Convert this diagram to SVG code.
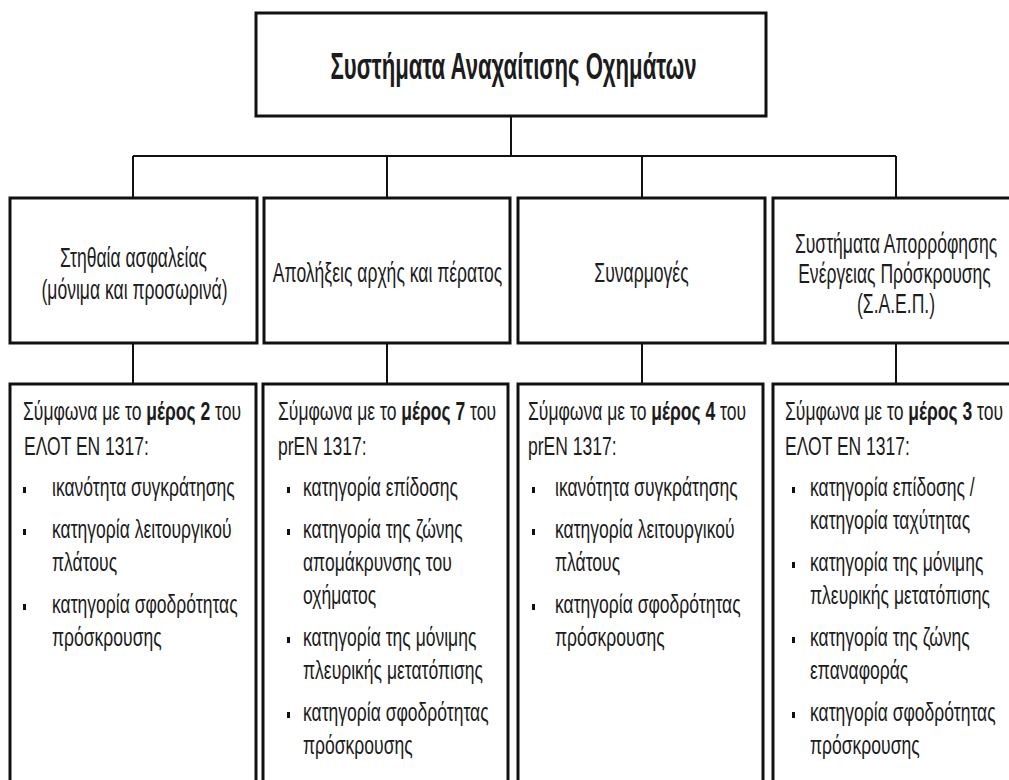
<svg xmlns="http://www.w3.org/2000/svg" width="1009" height="780" viewBox="0 0 1009 780">
<style>
.box{fill:#fff;stroke:#111;stroke-width:3}
.con{stroke:#111;stroke-width:2;fill:none}
text{font-family:"Liberation Sans",Arial,sans-serif;fill:#1c1c1c}
.title{font-size:36px;font-weight:bold;text-anchor:middle}
.hd{font-size:28px;text-anchor:middle}
.bd{font-size:26px}
.b{font-weight:bold}
.bul{fill:#111}
</style>
<rect width="1009" height="780" fill="#fff"/>
<g id="connectors">
<path class="con" d="M511 116V156M133 156H896M133 156V198M387 156V198M642 156V198M896 156V198"/>
<path class="con" d="M133 343V384M387 343V384M642 343V384M896 343V384"/>
</g>
<g id="root">
<rect class="box" x="256" y="13" width="510" height="103"/>
<text class="title" transform="translate(513.5 79) scale(0.615 1)">Συστήματα Αναχαίτισης Οχημάτων</text>
</g>
<g id="h1">
<rect class="box" x="10" y="198" width="247" height="145"/>
<text class="hd" transform="translate(133.5 267) scale(0.627 1)">Στηθαία ασφαλείας</text>
<text class="hd" transform="translate(134.5 299) scale(0.627 1)">(μόνιμα και προσωρινά)</text>
</g>
<g id="h2">
<rect class="box" x="264" y="198" width="246" height="145"/>
<text class="hd" transform="translate(387.5 282) scale(0.627 1)">Απολήξεις αρχής και πέρατος</text>
</g>
<g id="h3">
<rect class="box" x="518" y="198" width="247" height="145"/>
<text class="hd" transform="translate(641.5 282) scale(0.627 1)">Συναρμογές</text>
</g>
<g id="h4">
<rect class="box" x="773" y="198" width="245" height="145"/>
<text class="hd" transform="translate(896 253) scale(0.627 1)">Συστήματα Απορρόφησης</text>
<text class="hd" transform="translate(894.5 283) scale(0.627 1)">Ενέργειας Πρόσκρουσης</text>
<text class="hd" transform="translate(896 313) scale(0.627 1)">(Σ.Α.Ε.Π.)</text>
</g>
<g id="b1">
<rect class="box" x="10" y="384" width="246" height="420"/>
<text class="bd" transform="translate(23 420) scale(0.674 1)">Σύμφωνα με το <tspan class="b">μέρος 2</tspan> του</text>
<text class="bd" transform="translate(24 455) scale(0.674 1)">ΕΛΟΤ ΕΝ 1317:</text>
<rect class="bul" x="23" y="487" width="3" height="6"/>
<text class="bd" transform="translate(52 496) scale(0.674 1)">ικανότητα συγκράτησης</text>
<rect class="bul" x="23" y="529" width="3" height="6"/>
<text class="bd" transform="translate(52 538) scale(0.674 1)">κατηγορία λειτουργικού</text>
<text class="bd" transform="translate(52 571) scale(0.674 1)">πλάτους</text>
<rect class="bul" x="23" y="604" width="3" height="6"/>
<text class="bd" transform="translate(52 613) scale(0.674 1)">κατηγορία σφοδρότητας</text>
<text class="bd" transform="translate(52 646) scale(0.674 1)">πρόσκρουσης</text>
</g>
<g id="b2">
<rect class="box" x="263" y="384" width="245" height="420"/>
<text class="bd" transform="translate(278 420) scale(0.674 1)">Σύμφωνα με το <tspan class="b">μέρος 7</tspan> του</text>
<text class="bd" transform="translate(278 455) scale(0.674 1)">prEN 1317:</text>
<rect class="bul" x="287" y="487" width="3" height="6"/>
<text class="bd" transform="translate(303 496) scale(0.674 1)">κατηγορία επίδοσης</text>
<rect class="bul" x="287" y="529" width="3" height="6"/>
<text class="bd" transform="translate(303 538) scale(0.674 1)">κατηγορία της ζώνης</text>
<text class="bd" transform="translate(303 571) scale(0.674 1)">απομάκρυνσης του</text>
<text class="bd" transform="translate(303 604) scale(0.674 1)">οχήματος</text>
<rect class="bul" x="287" y="637" width="3" height="6"/>
<text class="bd" transform="translate(303 646) scale(0.674 1)">κατηγορία της μόνιμης</text>
<text class="bd" transform="translate(303 679) scale(0.674 1)">πλευρικής μετατόπισης</text>
<rect class="bul" x="287" y="712" width="3" height="6"/>
<text class="bd" transform="translate(303 721) scale(0.674 1)">κατηγορία σφοδρότητας</text>
<text class="bd" transform="translate(303 754) scale(0.674 1)">πρόσκρουσης</text>
</g>
<g id="b3">
<rect class="box" x="518" y="384" width="245" height="420"/>
<text class="bd" transform="translate(528 420) scale(0.674 1)">Σύμφωνα με το <tspan class="b">μέρος 4</tspan> του</text>
<text class="bd" transform="translate(528 455) scale(0.674 1)">prEN 1317:</text>
<rect class="bul" x="532" y="487" width="3" height="6"/>
<text class="bd" transform="translate(555 496) scale(0.674 1)">ικανότητα συγκράτησης</text>
<rect class="bul" x="532" y="529" width="3" height="6"/>
<text class="bd" transform="translate(555 538) scale(0.674 1)">κατηγορία λειτουργικού</text>
<text class="bd" transform="translate(555 571) scale(0.674 1)">πλάτους</text>
<rect class="bul" x="532" y="604" width="3" height="6"/>
<text class="bd" transform="translate(555 613) scale(0.674 1)">κατηγορία σφοδρότητας</text>
<text class="bd" transform="translate(555 646) scale(0.674 1)">πρόσκρουσης</text>
</g>
<g id="b4">
<rect class="box" x="773" y="384" width="245" height="420"/>
<text class="bd" transform="translate(785 420) scale(0.674 1)">Σύμφωνα με το <tspan class="b">μέρος 3</tspan> του</text>
<text class="bd" transform="translate(785 455) scale(0.674 1)">ΕΛΟΤ ΕΝ 1317:</text>
<rect class="bul" x="792" y="487" width="3" height="6"/>
<text class="bd" transform="translate(810 496) scale(0.674 1)">κατηγορία επίδοσης /</text>
<text class="bd" transform="translate(810 529) scale(0.674 1)">κατηγορία ταχύτητας</text>
<rect class="bul" x="792" y="562" width="3" height="6"/>
<text class="bd" transform="translate(810 571) scale(0.674 1)">κατηγορία της μόνιμης</text>
<text class="bd" transform="translate(810 604) scale(0.674 1)">πλευρικής μετατόπισης</text>
<rect class="bul" x="792" y="637" width="3" height="6"/>
<text class="bd" transform="translate(810 646) scale(0.674 1)">κατηγορία της ζώνης</text>
<text class="bd" transform="translate(810 679) scale(0.674 1)">επαναφοράς</text>
<rect class="bul" x="792" y="712" width="3" height="6"/>
<text class="bd" transform="translate(810 721) scale(0.674 1)">κατηγορία σφοδρότητας</text>
<text class="bd" transform="translate(810 754) scale(0.674 1)">πρόσκρουσης</text>
</g>
</svg>
